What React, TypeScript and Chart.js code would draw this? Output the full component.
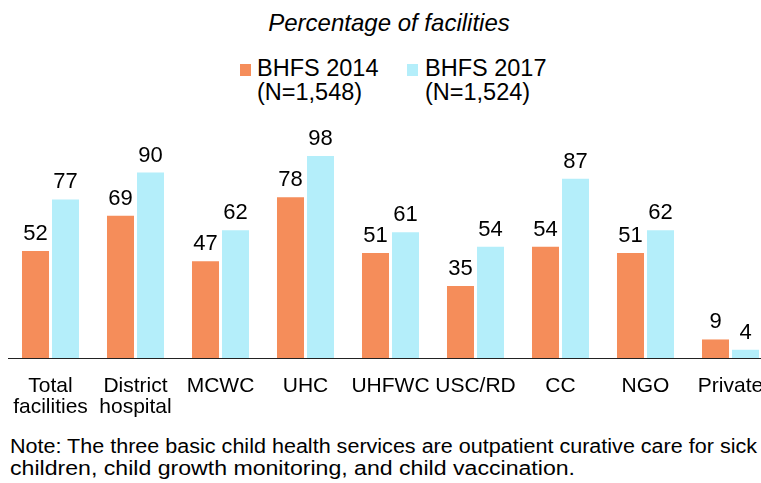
import React, { useEffect, useRef, useState } from "react";
import { Chart, registerables } from "chart.js";

Chart.register(...registerables);

const categories: (string | string[])[] = [
  ["Total", "facilities"],
  ["District", "hospital"],
  "MCWC",
  "UHC",
  "UHFWC",
  "USC/RD",
  "CC",
  "NGO",
  "Private",
];
const bhfs2014 = [52, 69, 47, 78, 51, 35, 54, 51, 9];
const bhfs2017 = [77, 90, 62, 98, 61, 54, 87, 62, 4];
const seriesNames = ["BHFS 2014", "BHFS 2017"];
const seriesN = ["(N=1,548)", "(N=1,524)"];
const titleText = "Percentage of facilities";
const noteLines = [
  "Note: The three basic child health services are outpatient curative care for sick",
  "children, child growth monitoring, and child vaccination.",
];

const ORANGE = "#F58D5A";
const BLUE = "#B4EEFA";
const FONT = "'Liberation Sans', Arial, sans-serif";

const labelPlugin = {
  id: "valueLabels",
  afterDatasetsDraw(chart: any) {
    const ctx = chart.ctx;
    ctx.save();
    ctx.font = `22px ${FONT}`;
    ctx.fillStyle = "#000";
    ctx.textAlign = "center";
    ctx.textBaseline = "alphabetic";
    chart.data.datasets.forEach((ds: any, i: number) => {
      const meta = chart.getDatasetMeta(i);
      meta.data.forEach((bar: any, j: number) => {
        ctx.fillText(String(ds.data[j]), bar.x, bar.y - 11);
      });
    });
    ctx.restore();
  },
};

const noteTargetWidths = [747, 565];

function NoteLine({ text, target, top }: { text: string; target: number; top: number }) {
  const ref = useRef<HTMLSpanElement>(null);
  const [scale, setScale] = useState(1);
  useEffect(() => {
    const el = ref.current;
    if (!el) return;
    const w = el.getBoundingClientRect().width;
    if (w > 0) setScale(target / w);
  }, [target]);
  return (
    <div
      style={{
        position: "absolute",
        left: 10,
        top,
        fontFamily: FONT,
        fontSize: 20,
        lineHeight: "22px",
        color: "#000",
        whiteSpace: "nowrap",
        transform: `scaleX(${scale})`,
        transformOrigin: "left top",
      }}
    >
      <span ref={ref}>{text}</span>
    </div>
  );
}

export default function App() {
  const canvasRef = useRef<HTMLCanvasElement>(null);

  useEffect(() => {
    const canvas = canvasRef.current;
    if (!canvas) return;
    const chart = new Chart(canvas, {
      type: "bar",
      data: {
        labels: categories,
        datasets: [
          {
            label: seriesNames[0],
            data: bhfs2014,
            backgroundColor: ORANGE,
            categoryPercentage: 0.706,
            barPercentage: 0.9,
          },
          {
            label: seriesNames[1],
            data: bhfs2017,
            backgroundColor: BLUE,
            categoryPercentage: 0.706,
            barPercentage: 0.9,
          },
        ],
      },
      options: {
        responsive: false,
        animation: false,
        layout: { padding: { left: 8, right: 3, top: 52, bottom: 0 } },
        plugins: {
          legend: { display: false },
          title: { display: false },
          tooltip: { enabled: false },
        },
        scales: {
          x: {
            grid: { display: false, drawTicks: false },
            border: { display: true, color: "#222", width: 1 },
            ticks: {
              color: "#000",
              font: { family: FONT, size: 21, lineHeight: 1.0 },
              padding: 18,
              maxRotation: 0,
              autoSkip: false,
            },
            afterFit(scale: any) {
              scale.height = 60;
              scale.paddingLeft = 0;
              scale.paddingRight = 0;
            },
          },
          y: {
            display: false,
            min: 0,
            max: 100,
          },
        },
      },
      plugins: [labelPlugin],
    });
    return () => chart.destroy();
  }, []);

  return (
    <div
      style={{
        position: "fixed",
        left: 0,
        top: 0,
        width: 761,
        height: 483,
        overflow: "hidden",
        background: "#fff",
        fontFamily: FONT,
        color: "#000",
      }}
    >
      <div
        style={{
          position: "absolute",
          left: 0,
          width: 778,
          top: 11,
          textAlign: "center",
          fontStyle: "italic",
          fontSize: 24,
          lineHeight: "24px",
        }}
      >
        {titleText}
      </div>
      {[0, 1].map((i) => (
        <div key={i}>
          <div
            style={{
              position: "absolute",
              left: i === 0 ? 240 : 407,
              top: 64,
              width: 11,
              height: 12,
              background: i === 0 ? ORANGE : BLUE,
            }}
          />
          <div
            style={{
              position: "absolute",
              left: i === 0 ? 257 : 425,
              top: 56,
              fontSize: 23.5,
              lineHeight: "24px",
              whiteSpace: "nowrap",
            }}
          >
            <div>{seriesNames[i]}</div>
            <div>{seriesN[i]}</div>
          </div>
        </div>
      ))}
      <canvas
        ref={canvasRef}
        width={776}
        height={318}
        style={{ position: "absolute", left: 0, top: 100, width: 776, height: 318 }}
      />
      {noteLines.map((l, i) => (
        <NoteLine key={i} text={l} target={noteTargetWidths[i]} top={435 + i * 22} />
      ))}
    </div>
  );
}
